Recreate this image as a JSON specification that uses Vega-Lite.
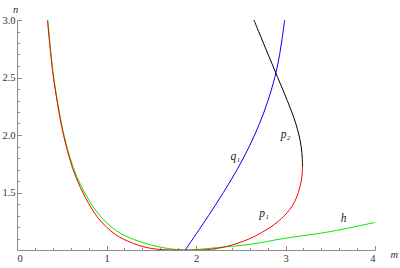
{
  "$schema": "https://vega.github.io/schema/vega-lite/v6.json",
  "width": 358,
  "height": 230,
  "autosize": "none",
  "padding": {"left": 17, "top": 20, "right": 25, "bottom": 18},
  "background": "white",
  "config": {
    "view": {"stroke": null},
    "axis": {
      "domainColor": "#8c8c8c",
      "tickColor": "#8c8c8c",
      "domainWidth": 1,
      "tickWidth": 1,
      "grid": false,
      "labelFont": "Liberation Serif, Times New Roman, serif",
      "labelFontSize": 10.5,
      "labelColor": "#333333",
      "titleFont": "Liberation Serif, Times New Roman, serif",
      "titleFontStyle": "italic",
      "titleFontWeight": "normal",
      "titleFontSize": 10.5,
      "titleColor": "#333333"
    }
  },
  "datasets": {
    "curves": [
      {"s": "h", "o": 1, "m": 0.345, "n": 3.0},
      {"s": "h", "o": 2, "m": 0.40, "n": 2.56},
      {"s": "h", "o": 3, "m": 0.457, "n": 2.27},
      {"s": "h", "o": 4, "m": 0.513, "n": 2.04},
      {"s": "h", "o": 5, "m": 0.59, "n": 1.81},
      {"s": "h", "o": 6, "m": 0.67, "n": 1.635},
      {"s": "h", "o": 7, "m": 0.78, "n": 1.465},
      {"s": "h", "o": 8, "m": 0.93, "n": 1.295},
      {"s": "h", "o": 9, "m": 1.115, "n": 1.165},
      {"s": "h", "o": 10, "m": 1.30, "n": 1.093},
      {"s": "h", "o": 11, "m": 1.49, "n": 1.045},
      {"s": "h", "o": 12, "m": 1.65, "n": 1.018},
      {"s": "h", "o": 13, "m": 1.78, "n": 1.004},
      {"s": "h", "o": 14, "m": 1.86, "n": 1.0},
      {"s": "h", "o": 15, "m": 2.0, "n": 1.004},
      {"s": "h", "o": 16, "m": 2.23, "n": 1.02},
      {"s": "h", "o": 17, "m": 2.61, "n": 1.05},
      {"s": "h", "o": 18, "m": 2.98, "n": 1.10},
      {"s": "h", "o": 19, "m": 3.5, "n": 1.16},
      {"s": "h", "o": 20, "m": 4.0, "n": 1.24},
      {"s": "p1", "o": 1, "m": 0.34, "n": 3.0},
      {"s": "p1", "o": 2, "m": 0.397, "n": 2.56},
      {"s": "p1", "o": 3, "m": 0.453, "n": 2.27},
      {"s": "p1", "o": 4, "m": 0.508, "n": 2.04},
      {"s": "p1", "o": 5, "m": 0.582, "n": 1.81},
      {"s": "p1", "o": 6, "m": 0.66, "n": 1.63},
      {"s": "p1", "o": 7, "m": 0.765, "n": 1.455},
      {"s": "p1", "o": 8, "m": 0.91, "n": 1.275},
      {"s": "p1", "o": 9, "m": 1.10, "n": 1.135},
      {"s": "p1", "o": 10, "m": 1.29, "n": 1.06},
      {"s": "p1", "o": 11, "m": 1.49, "n": 1.015},
      {"s": "p1", "o": 12, "m": 1.65, "n": 1.002},
      {"s": "p1", "o": 13, "m": 1.8, "n": 1.0},
      {"s": "p1", "o": 14, "m": 2.05, "n": 1.0},
      {"s": "p1", "o": 15, "m": 2.2, "n": 1.01},
      {"s": "p1", "o": 16, "m": 2.34, "n": 1.03},
      {"s": "p1", "o": 17, "m": 2.47, "n": 1.06},
      {"s": "p1", "o": 18, "m": 2.605, "n": 1.10},
      {"s": "p1", "o": 19, "m": 2.73, "n": 1.15},
      {"s": "p1", "o": 20, "m": 2.835, "n": 1.20},
      {"s": "p1", "o": 21, "m": 2.92, "n": 1.25},
      {"s": "p1", "o": 22, "m": 2.99, "n": 1.30},
      {"s": "p1", "o": 23, "m": 3.045, "n": 1.35},
      {"s": "p1", "o": 24, "m": 3.088, "n": 1.40},
      {"s": "p1", "o": 25, "m": 3.12, "n": 1.45},
      {"s": "p1", "o": 26, "m": 3.143, "n": 1.50},
      {"s": "p1", "o": 27, "m": 3.162, "n": 1.55},
      {"s": "p1", "o": 28, "m": 3.176, "n": 1.60},
      {"s": "p1", "o": 29, "m": 3.186, "n": 1.66},
      {"s": "p1", "o": 30, "m": 3.19, "n": 1.72},
      {"s": "p2", "o": 1, "m": 3.19, "n": 1.72},
      {"s": "p2", "o": 2, "m": 3.187, "n": 1.80},
      {"s": "p2", "o": 3, "m": 3.175, "n": 1.90},
      {"s": "p2", "o": 4, "m": 3.15, "n": 2.00},
      {"s": "p2", "o": 5, "m": 3.115, "n": 2.10},
      {"s": "p2", "o": 6, "m": 3.07, "n": 2.20},
      {"s": "p2", "o": 7, "m": 3.02, "n": 2.30},
      {"s": "p2", "o": 8, "m": 2.967, "n": 2.40},
      {"s": "p2", "o": 9, "m": 2.913, "n": 2.50},
      {"s": "p2", "o": 10, "m": 2.86, "n": 2.60},
      {"s": "p2", "o": 11, "m": 2.806, "n": 2.70},
      {"s": "p2", "o": 12, "m": 2.753, "n": 2.80},
      {"s": "p2", "o": 13, "m": 2.70, "n": 2.90},
      {"s": "p2", "o": 14, "m": 2.647, "n": 3.00},
      {"s": "q1", "o": 1, "m": 1.88, "n": 1.0},
      {"s": "q1", "o": 2, "m": 2.055, "n": 1.2},
      {"s": "q1", "o": 3, "m": 2.225, "n": 1.4},
      {"s": "q1", "o": 4, "m": 2.385, "n": 1.6},
      {"s": "q1", "o": 5, "m": 2.53, "n": 1.8},
      {"s": "q1", "o": 6, "m": 2.655, "n": 2.0},
      {"s": "q1", "o": 7, "m": 2.76, "n": 2.2},
      {"s": "q1", "o": 8, "m": 2.845, "n": 2.4},
      {"s": "q1", "o": 9, "m": 2.91, "n": 2.6},
      {"s": "q1", "o": 10, "m": 2.955, "n": 2.8},
      {"s": "q1", "o": 11, "m": 2.99, "n": 3.0}
    ],
    "labels": [
      {"t": "q₁", "m": 2.44, "n": 1.81},
      {"t": "p₂", "m": 3.0, "n": 2.0},
      {"t": "p₁", "m": 2.76, "n": 1.31},
      {"t": "h", "m": 3.65, "n": 1.27}
    ]
  },
  "resolve": {"axis": {"x": "independent", "y": "independent"}},
  "layer": [
    {
      "data": {"name": "curves"},
      "mark": {"type": "line", "strokeWidth": 1, "interpolate": "catmull-rom", "clip": true},
      "encoding": {
        "x": {"field": "m", "type": "quantitative",
          "scale": {"domain": [0, 4], "nice": false, "zero": false},
          "axis": {"orient": "bottom", "values": [0, 1, 2, 3, 4], "format": "d", "tickSize": -4.5, "labelPadding": 8, "title": "m", "titleX": 373, "titleY": 4, "titleAlign": "left", "titleBaseline": "middle", "titleAngle": 0}},
        "y": {"field": "n", "type": "quantitative",
          "scale": {"domain": [1, 3], "nice": false, "zero": false},
          "axis": {"orient": "left", "values": [1.5, 2.0, 2.5, 3.0], "format": ".1f", "tickSize": -4.5, "labelPadding": 6.5, "title": "n", "titleX": -2, "titleY": -11, "titleAngle": 0, "titleAlign": "center", "titleBaseline": "middle"}},
        "color": {"field": "s", "type": "nominal",
          "scale": {"domain": ["h", "p1", "p2", "q1"], "range": ["#00ee00", "#ff0000", "#000000", "#0000ff"]},
          "legend": null},
        "order": {"field": "o", "type": "quantitative"}
      }
    },
    {
      "data": {"name": "labels"},
      "mark": {"type": "text", "font": "Liberation Serif, Times New Roman, serif", "fontStyle": "italic", "fontSize": 11.5, "color": "#222222", "align": "center", "baseline": "middle"},
      "encoding": {
        "x": {"field": "m", "type": "quantitative",
          "axis": {"orient": "bottom", "values": [0.2, 0.4, 0.6, 0.8, 1.2, 1.4, 1.6, 1.8, 2.2, 2.4, 2.6, 2.8, 3.2, 3.4, 3.6, 3.8], "labels": false, "domain": false, "tickSize": -2.7, "title": null}},
        "y": {"field": "n", "type": "quantitative",
          "axis": {"orient": "left", "values": [1.1, 1.2, 1.3, 1.4, 1.6, 1.7, 1.8, 1.9, 2.1, 2.2, 2.3, 2.4, 2.6, 2.7, 2.8, 2.9], "labels": false, "domain": false, "tickSize": -2.7, "title": null}},
        "text": {"field": "t", "type": "nominal"}
      }
    }
  ]
}
